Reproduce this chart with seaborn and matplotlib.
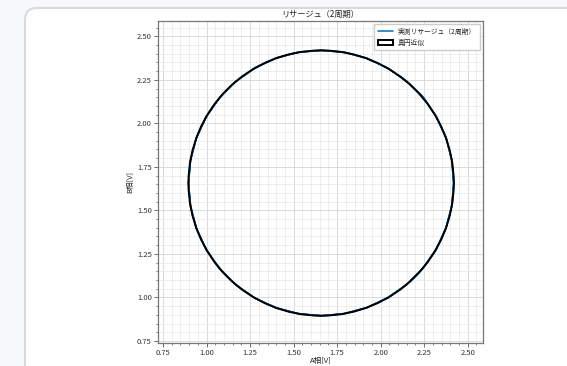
import numpy as np
import pandas as pd
import seaborn as sns
import matplotlib.pyplot as plt
from matplotlib.patches import Circle, FancyBboxPatch, Rectangle
from matplotlib.lines import Line2D
from matplotlib.ticker import MultipleLocator

# 実測リサージュ (2周期) の読み取り値
a_phase_1 = [2.420, 2.409, 2.375, 2.319, 2.246, 2.150, 2.040, 1.920, 1.792, 1.659,
             1.528, 1.400, 1.280, 1.169, 1.075, 0.997, 0.941, 0.907, 0.896, 0.907,
             0.941, 0.997, 1.073, 1.170, 1.280, 1.398, 1.527, 1.659, 1.791, 1.919,
             2.039, 2.148, 2.242, 2.318, 2.374, 2.408, 2.420]
b_phase_1 = [1.657, 1.789, 1.918, 2.039, 2.150, 2.242, 2.318, 2.374, 2.409, 2.419,
             2.409, 2.376, 2.320, 2.242, 2.147, 2.037, 1.917, 1.788, 1.657, 1.525,
             1.396, 1.275, 1.165, 1.070, 0.994, 0.940, 0.906, 0.895, 0.906, 0.941,
             0.997, 1.073, 1.167, 1.276, 1.396, 1.525, 1.657]
a_phase_2 = [2.420, 2.408, 2.376, 2.320, 2.244, 2.149, 2.039, 1.919, 1.790, 1.658,
             1.526, 1.397, 1.277, 1.168, 1.074, 0.998, 0.942, 0.908, 0.896, 0.908,
             0.942, 0.998, 1.074, 1.168, 1.278, 1.397, 1.526, 1.660, 1.790, 1.920,
             2.040, 2.149, 2.243, 2.319, 2.375, 2.409, 2.420]
b_phase_2 = [1.657, 1.790, 1.919, 2.040, 2.149, 2.242, 2.318, 2.375, 2.408, 2.420,
             2.408, 2.374, 2.318, 2.241, 2.147, 2.038, 1.918, 1.789, 1.657, 1.525,
             1.396, 1.276, 1.167, 1.072, 0.996, 0.941, 0.907, 0.894, 0.907, 0.941,
             0.997, 1.073, 1.167, 1.276, 1.396, 1.525, 1.657]

# 真円近似
circle_center = (1.658, 1.657)
circle_radius = 0.762

df = pd.DataFrame({
    'A': a_phase_1 + a_phase_2,
    'B': b_phase_1 + b_phase_2,
})

sns.set_theme(style="whitegrid")
plt.rcParams['font.family'] = ['Noto Sans CJK JP', 'DejaVu Sans']

fig = plt.figure(figsize=(5.67, 3.66), dpi=100)
fig.patch.set_facecolor('#f5f9fc')

# カード背景
card = FancyBboxPatch((0.25, -0.5), 6.0, 4.08,
                      boxstyle="round,pad=0,rounding_size=0.12",
                      transform=fig.dpi_scale_trans, facecolor='white',
                      edgecolor='#d9d9d9', linewidth=1.5, zorder=-10)
fig.patches.append(card)

ax = fig.add_axes([0.2787, 0.0628, 0.5732, 0.8798])
ax.set_facecolor('white')

sns.lineplot(data=df, x='A', y='B', sort=False, estimator=None, ax=ax,
             color='#1f77b4', linewidth=1.2, zorder=2)

circ = Circle(circle_center, circle_radius, fill=False, edgecolor='black',
              linewidth=1.4, zorder=3)
ax.add_patch(circ)

ax.set_xlim(0.721, 2.588)
ax.set_ylim(0.738, 2.588)

ax.xaxis.set_major_locator(MultipleLocator(0.25))
ax.yaxis.set_major_locator(MultipleLocator(0.25))
ax.xaxis.set_minor_locator(MultipleLocator(0.05))
ax.yaxis.set_minor_locator(MultipleLocator(0.05))
ax.xaxis.set_major_formatter(plt.FormatStrFormatter('%.2f'))
ax.yaxis.set_major_formatter(plt.FormatStrFormatter('%.2f'))

ax.grid(which='major', color='#d4d4d4', linewidth=0.6)
ax.grid(which='minor', color='#e8e8e8', linewidth=0.5)

ax.tick_params(which='major', direction='out', length=3, width=0.6,
               color='#555555', labelsize=5.5, pad=1.5, labelcolor='#333333',
               bottom=True, left=True)
ax.tick_params(which='minor', direction='out', length=1.5, width=0.5,
               color='#555555', bottom=True, left=True)

for s in ax.spines.values():
    s.set_color('#777777')
    s.set_linewidth(0.9)

ax.set_title('リサージュ（2周期）', fontsize=5.9, pad=3, color='#222222')
ax.set_xlabel('A相[V]', fontsize=5.5, labelpad=0, color='#222222')
ax.set_ylabel('B相[V]', fontsize=5.5, labelpad=2, color='#222222')

handles = [Line2D([0], [0], color='#1f77b4', linewidth=1.2),
           Rectangle((0, 0), 1, 1, facecolor='white', edgecolor='black', linewidth=1.4)]
ax.legend(handles, ['実測リサージュ（2周期）', '真円近似'], loc='upper right',
          fontsize=4.9, frameon=True, framealpha=1, edgecolor='#cccccc',
          fancybox=False, borderpad=0.5, handlelength=2.2, labelspacing=0.4)

plt.savefig('out.png', dpi=100, facecolor=fig.get_facecolor())
